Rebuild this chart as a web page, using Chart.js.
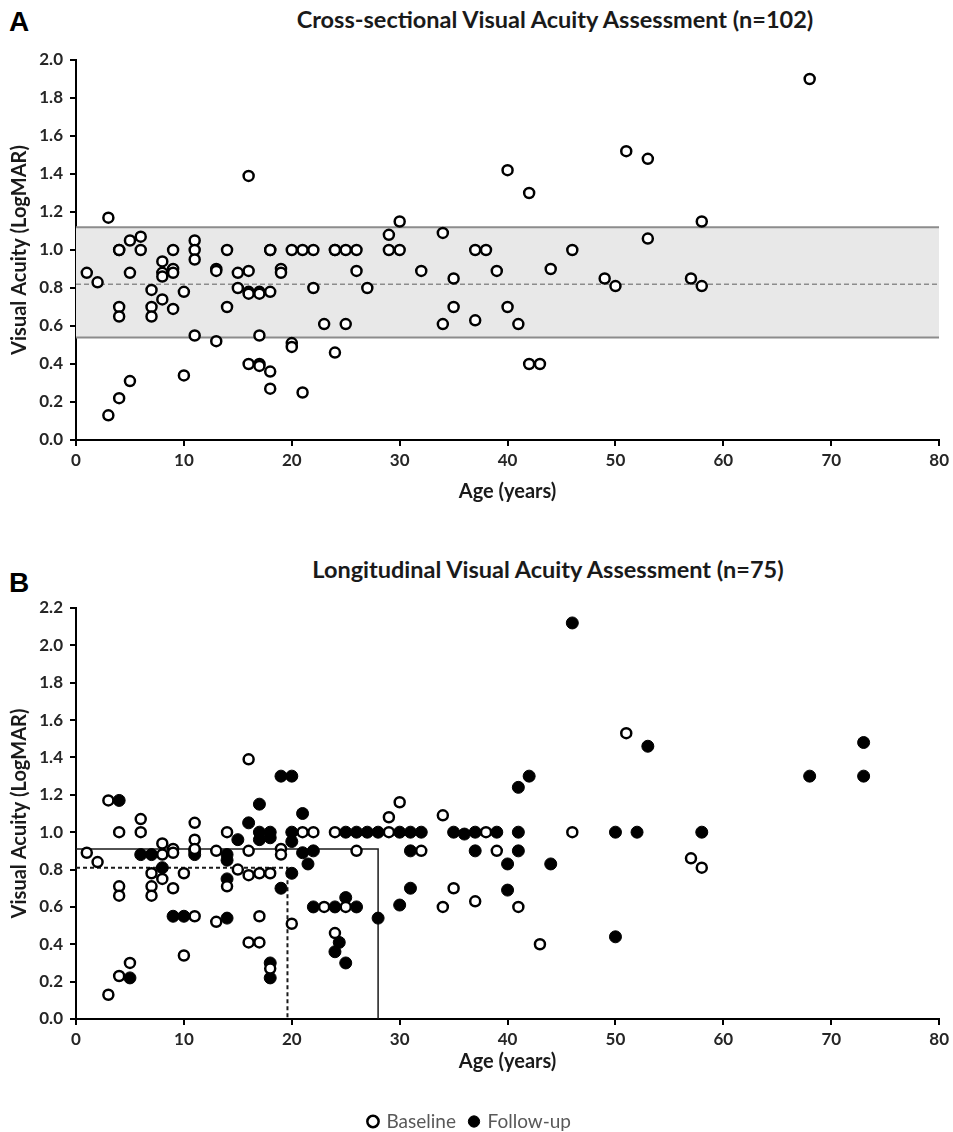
<!DOCTYPE html>
<html>
<head>
<meta charset="utf-8">
<title>Visual Acuity vs Age</title>
<script src="https://cdn.jsdelivr.net/npm/chart.js@4.4.1/dist/chart.umd.min.js"></script>
<style>
    body { margin: 0; background: #fff; width: 953px; height: 1132px; position: relative; overflow: hidden; font-family: Lato, "Open Sans", sans-serif; }
    .panel { position: absolute; font-family: "Liberation Sans", Arial, sans-serif; font-weight: bold; font-size: 28px; line-height: 1; color: #000; }
    .title { position: absolute; font-weight: bold; font-size: 23.5px; line-height: 1; color: #1a1a1a; transform: translateX(-50%); white-space: nowrap; }
    .box { position: absolute; left: 0; width: 953px; }
</style>
</head>
<body>
<div class="panel" style="left:9px;top:8px">A</div>
<div class="title" style="left:555px;top:8px">Cross-sectional Visual Acuity Assessment (n=102)</div>
<div class="box" style="top:0;height:520px"><canvas id="chartA"></canvas></div>

<div class="panel" style="left:9px;top:569px">B</div>
<div class="title" style="left:548px;top:558px">Longitudinal Visual Acuity Assessment (n=75)</div>
<div class="box" style="top:540px;height:605px"><canvas id="chartB"></canvas></div>

<script>
// --- Panel A: cross-sectional (age in years, VA in LogMAR)
const ageA = [1, 2, 3, 3, 4, 4, 4, 4, 4, 5, 5, 5, 6, 6, 7, 7, 7, 8, 8, 8, 8, 9, 9, 9, 9, 10, 10,
    11, 11, 11, 11, 13, 13, 13, 14, 14, 15, 15, 16, 16, 16, 16, 16, 17, 17, 17, 17, 17, 18, 18, 18, 18, 18, 19, 19, 20, 20, 20,
    21, 21, 22, 22, 23, 24, 24, 24, 25, 25, 26, 26, 27, 29, 29, 30, 30,
    32, 34, 34, 35, 35, 37, 37, 38, 39, 40, 40, 41, 42, 42, 43, 44, 46, 49, 50, 51, 53, 53, 57, 58, 58, 68]
const vaA = [0.88, 0.83, 1.17, 0.13, 1.00, 1.00, 0.70, 0.65, 0.22, 1.05, 0.88, 0.31, 1.07, 1.00, 0.79, 0.70, 0.65, 0.94, 0.88, 0.86, 0.74, 1.00, 0.90, 0.88, 0.69, 0.78, 0.34,
    1.05, 1.00, 0.95, 0.55, 0.90, 0.89, 0.52, 1.00, 0.70, 0.88, 0.80, 1.39, 0.89, 0.78, 0.77, 0.40, 0.78, 0.77, 0.55, 0.40, 0.39, 1.00, 1.00, 0.78, 0.36, 0.27, 0.90, 0.88, 1.00, 0.51, 0.49,
    1.00, 0.25, 1.00, 0.80, 0.61, 1.00, 1.00, 0.46, 1.00, 0.61, 1.00, 0.89, 0.80, 1.08, 1.00, 1.15, 1.00,
    0.89, 1.09, 0.61, 0.85, 0.70, 1.00, 0.63, 1.00, 0.89, 1.42, 0.70, 0.61, 1.30, 0.40, 0.40, 0.90, 1.00, 0.85, 0.81, 1.52, 1.48, 1.06, 0.85, 1.15, 0.81, 1.90]
// lower limit, mean, upper limit of the shaded band
const bandA = [0.54, 0.82, 1.12]

// --- Panel B: longitudinal, baseline (open) and follow-up (filled)
const ageBase = [1, 2, 3, 3, 4, 4, 4, 4, 5, 6, 6, 7, 7, 7, 8, 8, 8, 9, 9, 9, 10, 10,
    11, 11, 11, 11, 13, 13, 14, 14, 15, 16, 16, 16, 16, 17, 17, 17, 18, 18, 19, 19, 20,
    21, 22, 23, 24, 24, 25, 26, 29, 29, 30, 32, 34, 34, 35, 37, 38, 39, 41, 43, 46, 51, 57, 58]
const vaBase = [0.89, 0.84, 1.17, 0.13, 1.00, 0.71, 0.66, 0.23, 0.30, 1.07, 1.00, 0.78, 0.71, 0.66, 0.94, 0.88, 0.75, 0.91, 0.89, 0.70, 0.78, 0.34,
    1.05, 0.96, 0.91, 0.55, 0.90, 0.52, 1.00, 0.71, 0.80, 1.39, 0.90, 0.77, 0.41, 0.78, 0.55, 0.41, 0.78, 0.27, 0.91, 0.88, 0.51,
    1.00, 1.00, 0.60, 1.00, 0.46, 0.60, 0.90, 1.08, 1.00, 1.16, 0.90, 1.09, 0.60, 0.70, 0.63, 1.00, 0.90, 0.60, 0.40, 1.00, 1.53, 0.86, 0.81]
const ageFollow = [4, 5, 6, 7, 8, 9, 10, 11, 11, 14, 14, 14, 14, 15, 16, 17, 17, 17, 18, 18, 18, 18, 19, 19, 20, 20, 20, 20,
    21, 21, 21.5, 22, 22, 24, 24.4, 24, 25, 25, 25, 26, 26, 27, 28, 28, 30, 30, 31, 31, 31, 32,
    35, 36, 37, 37, 39, 40, 40, 41, 41, 41, 42, 44, 46, 50, 50, 52, 53, 58, 68, 73, 73]
const vaFollow = [1.17, 0.22, 0.88, 0.88, 0.81, 0.55, 0.55, 0.90, 0.88, 0.88, 0.85, 0.75, 0.54, 0.96, 1.05, 1.15, 1.00, 0.96, 1.00, 0.97, 0.30, 0.22, 1.30, 0.70, 1.30, 1.00, 0.95, 0.78,
    1.10, 0.89, 0.83, 0.90, 0.60, 0.60, 0.41, 0.36, 1.00, 0.65, 0.30, 1.00, 0.60, 1.00, 1.00, 0.54, 1.00, 0.61, 1.00, 0.90, 0.70, 1.00,
    1.00, 0.99, 1.00, 0.90, 1.00, 0.83, 0.69, 1.24, 1.00, 0.90, 1.30, 0.83, 2.12, 1.00, 0.44, 1.00, 1.46, 1.00, 1.30, 1.48, 1.30]
// [age, VA] corners of the two reference boxes
const refSolidB = [28, 0.91]
const refDashedB = [19.6, 0.81]

const xRange = [0, 80]
const xStep = 10
const yStep = 0.2

const FONT = "Lato, 'Open Sans', sans-serif"
const tickFont = { family: FONT, size: 17, weight: "bold" }
const axisTitleFont = { family: FONT, size: 20, weight: "bold" }

const pts = (xs, ys) => xs.map((x, i) => ({ x: x, y: ys[i] }))
const hline = (y) => [{ x: xRange[0], y: y }, { x: xRange[1], y: y }]
const corner = (c) => [{ x: xRange[0], y: c[1] }, { x: c[0], y: c[1] }, { x: c[0], y: 0 }]

function xScale(height, titlePad) {
    return {
        type: "linear", min: xRange[0], max: xRange[1],
        ticks: { stepSize: xStep, color: "#262626", font: tickFont, padding: 4 },
        grid: { drawOnChartArea: false, tickLength: 6, color: "#000", lineWidth: 2 },
        border: { color: "#000", width: 2 },
        title: { display: true, text: "Age (years)", color: "#1a1a1a", font: axisTitleFont, padding: { top: 0, bottom: titlePad } },
        afterFit: (axis) => { axis.height = height }
    }
}

function yScale(max) {
    return {
        type: "linear", min: 0, max: max,
        ticks: { stepSize: yStep, color: "#262626", font: tickFont, padding: 7, callback: (v) => v.toFixed(1) },
        grid: { drawOnChartArea: false, tickLength: 6, color: "#000", lineWidth: 2 },
        border: { color: "#000", width: 2 },
        title: { display: true, text: "Visual Acuity (LogMAR)", color: "#1a1a1a", font: axisTitleFont, padding: { top: 8, bottom: 0 } },
        afterFit: (axis) => { axis.width = 76 }
    }
}

const lineStyle = { type: "line", pointRadius: 0, tension: 0, fill: false }

new Chart(document.getElementById("chartA"), {
    type: "scatter",
    data: {
        datasets: [
            { label: "Cross-sectional", data: pts(ageA, vaA), pointStyle: "circle", pointRadius: 5,
              backgroundColor: "#fff", borderColor: "#000", borderWidth: 2.5 },
            { ...lineStyle, label: "Mean", data: hline(bandA[1]), borderColor: "#8c8c8c", borderWidth: 1.5, borderDash: [5, 3] },
            { ...lineStyle, label: "Upper", data: hline(bandA[2]), borderColor: "#8c8c8c", borderWidth: 2 },
            { ...lineStyle, label: "Lower", data: hline(bandA[0]), borderColor: "#8c8c8c", borderWidth: 2,
              fill: "-1", backgroundColor: "#e8e8e8" },
        ]
    },
    options: {
        responsive: true,
        maintainAspectRatio: false,
        animation: false,
        layout: { padding: { top: 60, left: 0, right: 13, bottom: 16 } },
        plugins: { legend: { display: false }, tooltip: { enabled: false } },
        scales: { x: xScale(64, 0), y: yScale(2.0) }
    }
})

new Chart(document.getElementById("chartB"), {
    type: "scatter",
    data: {
        datasets: [
            { label: "Baseline", data: pts(ageBase, vaBase), pointStyle: "circle", pointRadius: 5,
              backgroundColor: "#fff", borderColor: "#000", borderWidth: 2.5 },
            { label: "Follow-up", data: pts(ageFollow, vaFollow), pointStyle: "circle", pointRadius: 6,
              backgroundColor: "#000", borderColor: "#000", borderWidth: 1 },
            { ...lineStyle, label: "refSolid", data: corner(refSolidB), borderColor: "#1a1a1a", borderWidth: 1.5 },
            { ...lineStyle, label: "refDashed", data: corner(refDashedB), borderColor: "#1a1a1a", borderWidth: 2, borderDash: [4, 3] },
        ]
    },
    options: {
        responsive: true,
        maintainAspectRatio: false,
        animation: false,
        layout: { padding: { top: 68, left: 0, right: 13, bottom: 4 } },
        plugins: {
            tooltip: { enabled: false },
            legend: {
                display: true,
                position: "bottom",
                labels: {
                    filter: (item) => item.datasetIndex < 2,
                    usePointStyle: true,
                    pointStyle: "circle",
                    boxWidth: 8,
                    boxHeight: 8,
                    padding: 14,
                    color: "#595959",
                    font: { family: FONT, size: 19 }
                }
            }
        },
        scales: { x: xScale(79, 24), y: yScale(2.2) }
    }
})
</script>
</body>
</html>
